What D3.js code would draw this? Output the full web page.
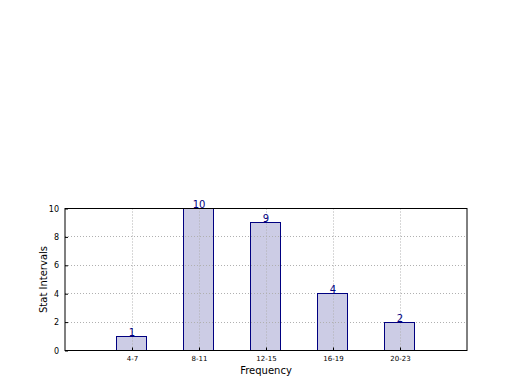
<!DOCTYPE html>
<html>
<head>
<meta charset="utf-8">
<script src="https://cdn.jsdelivr.net/npm/d3@7"></script>
<style>
    body { margin: 0; background: #fff; }
    svg { display: block; font-family: 'DejaVu Sans', sans-serif; }
</style>
</head>
<body>
<svg class="chart" width="520" height="390"></svg>
<script>
var categories = ['4-7', '8-11', '12-15', '16-19', '20-23'];
var counts = [1, 10, 9, 4, 2];
var yTicks = [0, 2, 4, 6, 8, 10];

var plotLeft = 65, plotRight = 467, plotTop = 208.5, plotBottom = 350.5;
var barWidth = 0.45;
var fillColor = '#ccccE5';
var edgeColor = '#000080';
var gridColor = '#b0b0b0';

var svg = d3.select('.chart');

var xScale = d3.scaleLinear().domain([-1, 5]).range([plotLeft, plotRight]);
var yScale = d3.scaleLinear().domain([0, 10]).range([plotBottom, plotTop]);

function crisp(v) {
    return Math.round(v - 0.5) + 0.5;
}

function drawBars(layer, fill, stroke) {
    layer.selectAll('rect')
        .data(counts)
        .join('rect')
        .attr('x', function(d, i) { return crisp(xScale(i - barWidth / 2)); })
        .attr('width', Math.round(xScale(barWidth) - xScale(0)))
        .attr('y', function(d) { return crisp(yScale(d)); })
        .attr('height', function(d) { return crisp(yScale(0)) - crisp(yScale(d)); })
        .style('fill', fill)
        .style('stroke', stroke)
        .style('stroke-width', 1);
}

// Bar fills
drawBars(svg.append('g'), fillColor, 'none');

// Grid (drawn over the bar fills, as in the original)
var grid = svg.append('g').attr('class', 'grid');
grid.selectAll('line.gx')
    .data(categories)
    .join('line')
    .attr('class', 'gx')
    .attr('x1', function(d, i) { return crisp(xScale(i)); })
    .attr('x2', function(d, i) { return crisp(xScale(i)); })
    .attr('y1', plotTop)
    .attr('y2', plotBottom)
    .style('stroke', gridColor)
    .style('stroke-dasharray', '1,2');

grid.selectAll('line.gy')
    .data(yTicks)
    .join('line')
    .attr('class', 'gy')
    .attr('x1', plotLeft)
    .attr('x2', plotRight)
    .attr('y1', function(d) { return crisp(yScale(d)); })
    .attr('y2', function(d) { return crisp(yScale(d)); })
    .style('stroke', gridColor)
    .style('stroke-dasharray', '1,2');

// Bar outlines
drawBars(svg.append('g'), 'none', edgeColor);

// Value labels
svg.append('g')
    .selectAll('text')
    .data(counts)
    .join('text')
    .attr('x', function(d, i) { return xScale(i); })
    .attr('y', function(d) { return yScale(d) - 0.5; })
    .style('text-anchor', 'middle')
    .style('font-size', '10px')
    .style('fill', edgeColor)
    .text(function(d) { return d; });

// Axes
var xAxis = d3.axisBottom(xScale)
    .tickValues(d3.range(categories.length))
    .tickFormat(function(d) { return categories[d]; })
    .tickSize(-3)
    .tickPadding(6);

var yAxis = d3.axisLeft(yScale)
    .tickValues(yTicks)
    .tickSize(-3)
    .tickPadding(6);

var gx = svg.append('g')
    .attr('transform', 'translate(0,' + plotBottom + ')')
    .call(xAxis);
gx.select('.domain').remove();
gx.selectAll('text').style('font-size', '7px').style('font-family', 'DejaVu Sans');
gx.selectAll('line').style('stroke', '#000');

var gy = svg.append('g')
    .attr('transform', 'translate(' + plotLeft + ',0)')
    .call(yAxis);
gy.select('.domain').remove();
gy.selectAll('text').style('font-size', '8px').style('font-family', 'DejaVu Sans');
gy.selectAll('line').style('stroke', '#000');

// Frame
svg.append('rect')
    .attr('x', plotLeft)
    .attr('y', plotTop)
    .attr('width', plotRight - plotLeft)
    .attr('height', plotBottom - plotTop)
    .style('fill', 'none')
    .style('stroke', '#000')
    .style('stroke-width', 1);

// Axis labels
svg.append('text')
    .attr('x', (plotLeft + plotRight) / 2)
    .attr('y', 374)
    .style('text-anchor', 'middle')
    .style('font-size', '10px')
    .text('Frequency');

svg.append('text')
    .attr('transform', 'translate(47,' + ((plotTop + plotBottom) / 2) + ') rotate(-90)')
    .style('text-anchor', 'middle')
    .style('font-size', '10px')
    .text('Stat Intervals');
</script>
</body>
</html>
